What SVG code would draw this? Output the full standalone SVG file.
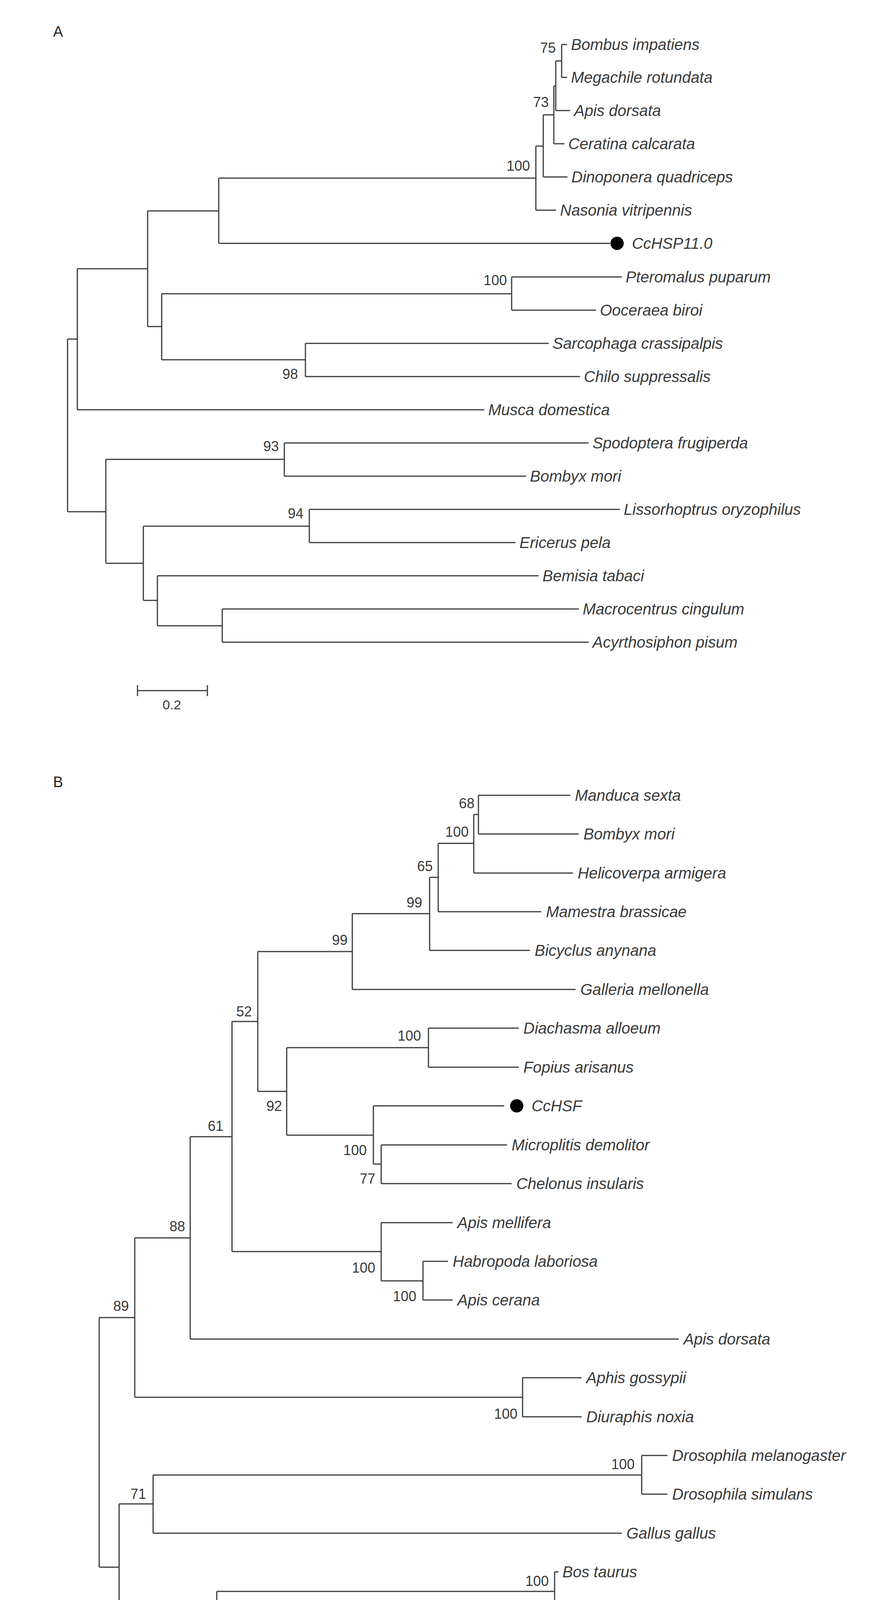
<svg xmlns="http://www.w3.org/2000/svg" width="2289" height="4545" viewBox="0 0 2289 4545">
<style>
.e{fill:none;stroke:#3a3a3a;stroke-width:3}
.t{font-family:"Liberation Sans",Arial,sans-serif;font-style:italic;font-size:40px;fill:#3a3a3a}
.b{font-family:"Liberation Sans",Arial,sans-serif;font-size:36px;fill:#3a3a3a;text-anchor:end}
.p{font-family:"Liberation Sans",Arial,sans-serif;font-size:38px;fill:#222}
.s{font-family:"Liberation Sans",Arial,sans-serif;font-size:34px;fill:#3a3a3a;text-anchor:middle}
</style>
<rect width="2289" height="4545" fill="#fff"/>
<text class="p" x="136" y="94">A</text>
<text class="p" x="136" y="2015">B</text>
<g id="connectors">
<path class="e" d="M1438,114H1452M1438,198H1452M1438,114V198M1423,156H1438M1423,283H1460M1423,156V283M1418,220H1423M1418,368H1445M1418,220V368M1391,294H1418M1391,453H1453M1391,294V453M1372,374H1391M1372,538H1424M1372,374V538M560,456H1372M560,623H1562M560,456V623M378,540H560M1310,709H1592M1310,794H1526M1310,709V794M782,879H1405M782,964H1485M782,879V964M414,752H1310M414,921H782M414,752V921M378,836H414M378,540V836M198,688H378M198,1049H1240M198,688V1049M173,868H198M728,1134H1507M728,1219H1347M728,1134V1219M792,1304H1587M792,1389H1320M792,1304V1389M569,1559H1482M569,1644H1507M569,1559V1644M403,1474H1379M403,1602H569M403,1474V1602M367,1347H792M367,1537H403M367,1347V1537M271,1176H728M271,1442H367M271,1176V1442M173,1310H271M173,868V1310"/>
<path class="e" d="M352,1768H531M352,1754V1782M531,1754V1782"/>
<path class="e" d="M1225,2036H1460M1225,2135H1482M1225,2036V2135M1213,2085H1225M1213,2235H1467M1213,2085V2235M1122,2159H1213M1122,2334H1386M1122,2159V2334M1100,2246H1122M1100,2433H1357M1100,2246V2433M902,2339H1100M902,2533H1474M902,2339V2533M660,2436H902M1097,2632H1328M1097,2732H1328M1097,2632V2732M734,2682H1097M976,2931H1298M976,3030H1310M976,2931V3030M956,2831H1291M956,2980H976M956,2831V2980M734,2906H956M734,2682V2906M660,2794H734M660,2436V2794M594,2615H660M1083,3229H1147M1083,3328H1159M1083,3229V3328M976,3130H1159M976,3279H1083M976,3130V3279M594,3204H976M594,2615V3204M487,2910H594M487,3428H1738M487,2910V3428M345,3169H487M1338,3527H1489M1338,3627H1489M1338,3527V3627M345,3577H1338M345,3169V3577M254,3373H345M1643,3726H1709M1643,3825H1709M1643,3726V3825M392,3776H1643M392,3925H1592M392,3776V3925M305,3850H392M1420,4024H1430M1420,4124H1438M1420,4024V4124M998,4223H1738M998,4323H1694M998,4223V4323M555,4074H1420M555,4273H998M555,4074V4273M305,4173H555M305,3850V4173M254,4012H305M254,3373V4012"/>
<path class="e" d="M430,4455H623M430,4441V4469M623,4441V4469"/>
</g>
<g id="bootstrap">
<text class="b" x="1423" y="135">75</text>
<text class="b" x="1405" y="274">73</text>
<text class="b" x="1357" y="437">100</text>
<text class="b" x="1298" y="730">100</text>
<text class="b" x="763" y="970">98</text>
<text class="b" x="714" y="1155">93</text>
<text class="b" x="777" y="1327">94</text>
<text class="b" x="1215" y="2069">68</text>
<text class="b" x="1200" y="2142">100</text>
<text class="b" x="1108" y="2230">65</text>
<text class="b" x="1081" y="2323">99</text>
<text class="b" x="890" y="2419">99</text>
<text class="b" x="645" y="2602">52</text>
<text class="b" x="1078" y="2664">100</text>
<text class="b" x="722" y="2844">92</text>
<text class="b" x="572" y="2895">61</text>
<text class="b" x="939" y="2957">100</text>
<text class="b" x="961" y="3030">77</text>
<text class="b" x="474" y="3152">88</text>
<text class="b" x="961" y="3258">100</text>
<text class="b" x="1066" y="3331">100</text>
<text class="b" x="330" y="3356">89</text>
<text class="b" x="1325" y="3632">100</text>
<text class="b" x="1625" y="3761">100</text>
<text class="b" x="374" y="3837">71</text>
<text class="b" x="1405" y="4060">100</text>
<text class="b" x="538" y="4228">97</text>
<text class="b" x="983" y="4329">100</text>
</g>
<g id="scaleA"><text class="s" x="440" y="1816">0.2</text></g>
<g id="scaleB"><text class="s" x="528" y="4504">0.2</text></g>
<g id="leavesA">
<g id="a1"><text class="t" x="1462" y="128">Bombus impatiens</text></g>
<g id="a2"><text class="t" x="1462" y="212">Megachile rotundata</text></g>
<g id="a3"><text class="t" x="1470" y="297">Apis dorsata</text></g>
<g id="a4"><text class="t" x="1455" y="382">Ceratina calcarata</text></g>
<g id="a5"><text class="t" x="1463" y="467">Dinoponera quadriceps</text></g>
<g id="a6"><text class="t" x="1434" y="552">Nasonia vitripennis</text></g>
<g id="a7"><circle cx="1580" cy="623" r="17" fill="#000"/><text class="t" x="1618" y="637">CcHSP11.0</text></g>
<g id="a8"><text class="t" x="1602" y="723">Pteromalus puparum</text></g>
<g id="a9"><text class="t" x="1536" y="808">Ooceraea biroi</text></g>
<g id="a10"><text class="t" x="1415" y="893">Sarcophaga crassipalpis</text></g>
<g id="a11"><text class="t" x="1495" y="978">Chilo suppressalis</text></g>
<g id="a12"><text class="t" x="1250" y="1063">Musca domestica</text></g>
<g id="a13"><text class="t" x="1517" y="1148">Spodoptera frugiperda</text></g>
<g id="a14"><text class="t" x="1357" y="1233">Bombyx mori</text></g>
<g id="a15"><text class="t" x="1597" y="1318">Lissorhoptrus oryzophilus</text></g>
<g id="a16"><text class="t" x="1330" y="1403">Ericerus pela</text></g>
<g id="a17"><text class="t" x="1389" y="1488">Bemisia tabaci</text></g>
<g id="a18"><text class="t" x="1492" y="1573">Macrocentrus cingulum</text></g>
<g id="a19"><text class="t" x="1517" y="1658">Acyrthosiphon pisum</text></g>
</g>
<g id="leavesB">
<g id="b1"><text class="t" x="1472" y="2050">Manduca sexta</text></g>
<g id="b2"><text class="t" x="1494" y="2149">Bombyx mori</text></g>
<g id="b3"><text class="t" x="1479" y="2249">Helicoverpa armigera</text></g>
<g id="b4"><text class="t" x="1398" y="2348">Mamestra brassicae</text></g>
<g id="b5"><text class="t" x="1369" y="2447">Bicyclus anynana</text></g>
<g id="b6"><text class="t" x="1486" y="2547">Galleria mellonella</text></g>
<g id="b7"><text class="t" x="1340" y="2646">Diachasma alloeum</text></g>
<g id="b8"><text class="t" x="1340" y="2746">Fopius arisanus</text></g>
<g id="b9"><circle cx="1323" cy="2831" r="17" fill="#000"/><text class="t" x="1361" y="2845">CcHSF</text></g>
<g id="b10"><text class="t" x="1310" y="2945">Microplitis demolitor</text></g>
<g id="b11"><text class="t" x="1322" y="3044">Chelonus insularis</text></g>
<g id="b12"><text class="t" x="1171" y="3144">Apis mellifera</text></g>
<g id="b13"><text class="t" x="1159" y="3243">Habropoda laboriosa</text></g>
<g id="b14"><text class="t" x="1171" y="3342">Apis cerana</text></g>
<g id="b15"><text class="t" x="1750" y="3442">Apis dorsata</text></g>
<g id="b16"><text class="t" x="1501" y="3541">Aphis gossypii</text></g>
<g id="b17"><text class="t" x="1501" y="3641">Diuraphis noxia</text></g>
<g id="b18"><text class="t" x="1721" y="3740">Drosophila melanogaster</text></g>
<g id="b19"><text class="t" x="1721" y="3839">Drosophila simulans</text></g>
<g id="b20"><text class="t" x="1604" y="3939">Gallus gallus</text></g>
<g id="b21"><text class="t" x="1440" y="4038">Bos taurus</text></g>
<g id="b22"><text class="t" x="1450" y="4138">Capra hircus</text></g>
<g id="b23"><text class="t" x="1750" y="4237">Carassius auratus</text></g>
<g id="b24"><text class="t" x="1706" y="4337">Homo sapiens</text></g>
</g>
</svg>
